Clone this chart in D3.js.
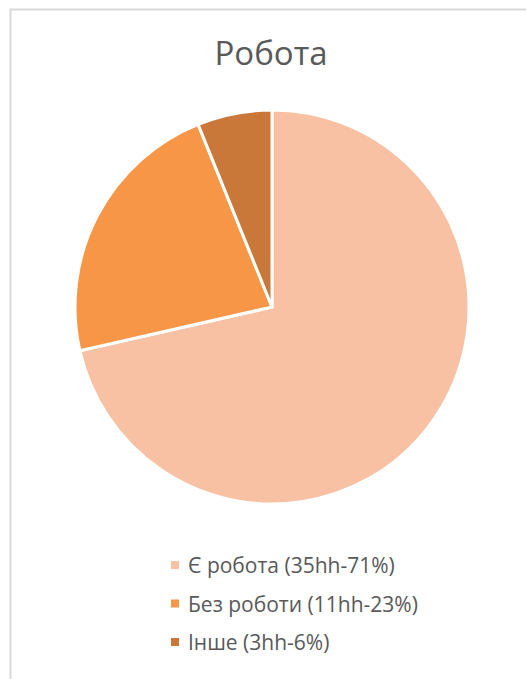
<!DOCTYPE html>
<html>
<head>
<meta charset="utf-8">
<script src="https://cdn.jsdelivr.net/npm/d3@7"></script>
<style>
  body { margin: 0; background: #fff; }
</style>
</head>
<body>
<div id="container"></div>
<script>
const categories = ["Є робота", "Без роботи", "Інше"];
const counts = [35, 11, 3];
const legendLabels = ["Є робота (35hh-71%)", "Без роботи (11hh-23%)", "Інше (3hh-6%)"];
const colors = ["#F8C1A4", "#F79646", "#C9783A"];

const width = 526, height = 679;
const font = "'Open Sans', 'Noto Sans', sans-serif";

const svg = d3.select("#container")
  .append("svg")
  .attr("width", width)
  .attr("height", height)
  .style("font-family", font);

// chart frame (runs off the right and bottom of the picture)
svg.append("rect")
  .attr("x", 10.5)
  .attr("y", 9.5)
  .attr("width", width + 20)
  .attr("height", height + 20)
  .attr("fill", "none")
  .attr("stroke", "#d9d9d9")
  .attr("stroke-width", 2);

svg.append("text")
  .attr("x", 271)
  .attr("y", 65)
  .attr("text-anchor", "middle")
  .attr("fill", "#595959")
  .style("font-size", "33px")
  .text("Робота");

const cx = 272, cy = 307, r = 197;

const pie = d3.pie().sort(null).value(d => d);
const arc = d3.arc().innerRadius(0).outerRadius(r);

const data = pie(counts);

svg.append("g")
  .attr("transform", `translate(${cx},${cy})`)
  .selectAll("path")
  .data(data)
  .enter()
  .append("path")
  .attr("d", arc)
  .attr("fill", (d, i) => colors[i])
  .attr("stroke", "#fff")
  .attr("stroke-width", 3)
  .attr("stroke-linejoin", "round");

// legend
const legend = svg.append("g")
  .attr("transform", "translate(171,561)");

legendLabels.forEach((label, i) => {
  const g = legend.append("g")
    .attr("transform", `translate(0, ${i * 38.5})`);

  g.append("rect")
    .attr("width", 8)
    .attr("height", 8)
    .attr("fill", colors[i]);

  g.append("text")
    .attr("x", 17)
    .attr("y", 12)
    .attr("fill", "#595959")
    .style("font-size", "21px")
    .text(label);
});
</script>
</body>
</html>
